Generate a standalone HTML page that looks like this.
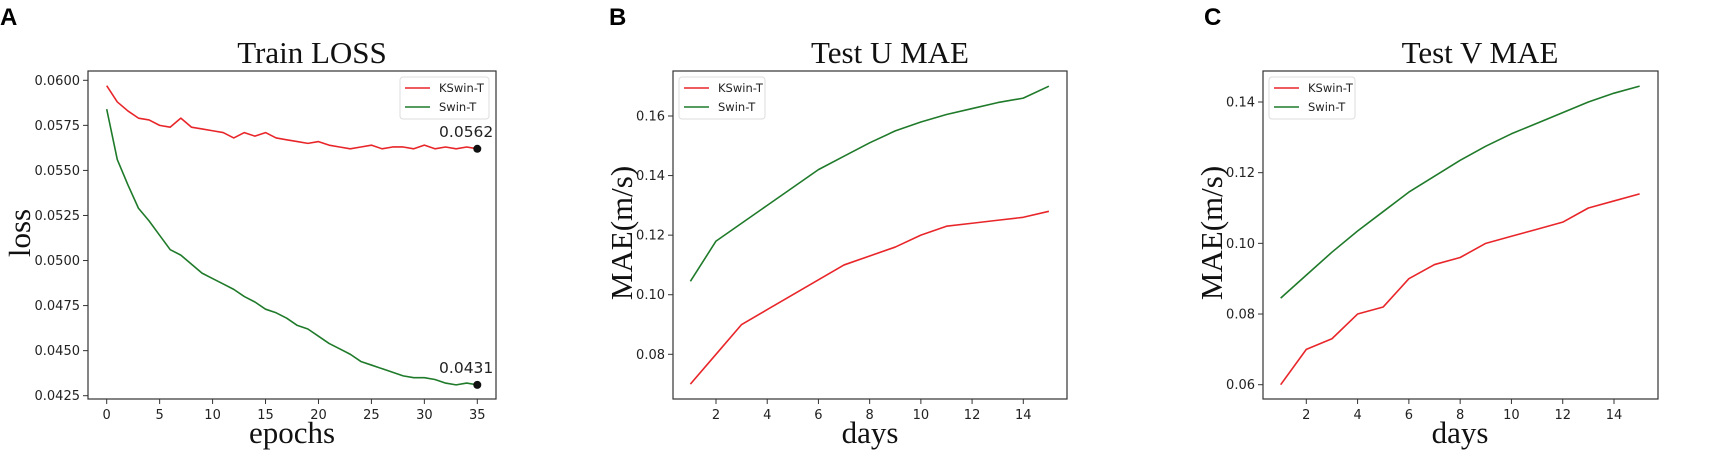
<!DOCTYPE html>
<html><head><meta charset="utf-8"><style>
body{margin:0;background:#fff;}
svg{display:block;}
.tk{font-family:"DejaVu Sans","Liberation Sans",sans-serif;font-size:13px;fill:#222;}
.ttl{font-family:"Liberation Serif",serif;font-size:31px;fill:#111;}
.lg{font-family:"DejaVu Sans","Liberation Sans",sans-serif;font-size:11.5px;fill:#222;}
.let{font-family:"Liberation Sans",sans-serif;font-weight:bold;font-size:24px;fill:#000;}
</style></head><body>
<svg id="fig" width="1719" height="461" xmlns="http://www.w3.org/2000/svg"></svg>
<script>
const epochs=[...Array(36).keys()];
const lossKSwin=[0.0597,0.0588,0.0583,0.0579,0.0578,0.0575,0.0574,0.0579,0.0574,0.0573,0.0572,0.0571,0.0568,0.0571,0.0569,0.0571,0.0568,0.0567,0.0566,0.0565,0.0566,0.0564,0.0563,0.0562,0.0563,0.0564,0.0562,0.0563,0.0563,0.0562,0.0564,0.0562,0.0563,0.0562,0.0563,0.0562];
const lossSwin=[0.0584,0.0556,0.0542,0.0529,0.0522,0.0514,0.0506,0.0503,0.0498,0.0493,0.0490,0.0487,0.0484,0.0480,0.0477,0.0473,0.0471,0.0468,0.0464,0.0462,0.0458,0.0454,0.0451,0.0448,0.0444,0.0442,0.0440,0.0438,0.0436,0.0435,0.0435,0.0434,0.0432,0.0431,0.0432,0.0431];
const days=[1,2,3,4,5,6,7,8,9,10,11,12,13,14,15];
const uKSwin=[0.070,0.080,0.090,0.095,0.100,0.105,0.110,0.113,0.116,0.120,0.123,0.124,0.125,0.126,0.128];
const uSwin=[0.1045,0.118,0.124,0.130,0.136,0.142,0.1465,0.151,0.155,0.158,0.1605,0.1625,0.1645,0.166,0.170];
const vKSwin=[0.060,0.070,0.073,0.080,0.082,0.090,0.094,0.096,0.100,0.102,0.104,0.106,0.110,0.112,0.114];
const vSwin=[0.0845,0.091,0.0975,0.1035,0.109,0.1145,0.119,0.1235,0.1275,0.131,0.134,0.137,0.140,0.1425,0.1445];
const lossXTicks=[0,5,10,15,20,25,30,35];
const lossYTicks=[0.0425,0.0450,0.0475,0.0500,0.0525,0.0550,0.0575,0.0600];
const dayXTicks=[2,4,6,8,10,12,14];
const uYTicks=[0.08,0.10,0.12,0.14,0.16];
const vYTicks=[0.06,0.08,0.10,0.12,0.14];

const NS="http://www.w3.org/2000/svg";
const svg=document.getElementById('fig');
function mk(tag,attrs,parent,text){const e=document.createElementNS(NS,tag);for(const k in attrs)e.setAttribute(k,attrs[k]);if(text!==undefined)e.textContent=text;(parent||svg).appendChild(e);return e;}

function panel(p){
  const g=mk('g',{});
  
  
  const X=v=>p.x0px+(v-p.x0v)*(p.x1px-p.x0px)/(p.x1v-p.x0v);
  const Y=v=>p.y0px+(v-p.y0v)*(p.y1px-p.y0px)/(p.y1v-p.y0v);
  let t=mk('text',{x:p.letX,y:25,class:'let'},g,p.letter);
  
  t=mk('text',{x:p.titleX,y:63,class:'ttl','text-anchor':'middle'},g,p.title);
  
  // series
  p.series.forEach(s=>{
    const d=p.xs.map((xv,i)=>(i?'L':'M')+X(xv).toFixed(2)+','+Y(s.vals[i]).toFixed(2)).join('');
    const l=mk('path',{d:d,fill:'none',stroke:s.color,'stroke-width':1.6,'stroke-linejoin':'round'},g);
    
  });
  // frame
  const r=mk('rect',{x:p.bx0,y:71,width:p.bx1-p.bx0,height:328,fill:'none',stroke:'#333','stroke-width':1.2},g);
  
  p.xticks.forEach(v=>{
    mk('line',{x1:X(v),x2:X(v),y1:399,y2:404,stroke:'#333'},g);
    const tt=mk('text',{x:X(v),y:419,class:'tk','text-anchor':'middle'},g,String(v));
    
  });
  p.yticks.forEach(v=>{
    mk('line',{x1:p.bx0-5,x2:p.bx0,y1:Y(v),y2:Y(v),stroke:'#333'},g);
    const tt=mk('text',{x:p.bx0-8,y:Y(v)+4.5,class:'tk','text-anchor':'end'},g,v.toFixed(p.dec));
    
  });
  t=mk('text',{x:p.xlabX,y:443,class:'ttl','text-anchor':'middle'},g,p.xlab);
  
  t=mk('text',{x:0,y:0,class:'ttl','text-anchor':'middle',transform:'translate('+p.ylabX+',233) rotate(-90)'},g,p.ylab);
  
  // legend
  const lg=mk('g',{},g);
  
  mk('rect',{x:p.lgX,y:77,width:p.lgW,height:42,rx:3,fill:'#fff',stroke:'#ddd'},lg);
  p.series.forEach((s,i)=>{
    const yy=88+i*19;
    mk('line',{x1:p.lgX+5,x2:p.lgX+30,y1:yy,y2:yy,stroke:s.color,'stroke-width':1.6},lg);
    const e=mk('text',{x:p.lgX+39,y:yy+4,class:'lg'},lg,s.name);
    
  });
  if(p.annot){
    p.series.forEach(s=>{
      const n=s.vals.length-1,cx=X(p.xs[n]),cy=Y(s.vals[n]);
      const c=mk('circle',{cx:cx,cy:cy,r:4,fill:'#111'},g);
      
      const a=mk('text',{x:cx+16,y:cy-12,class:'tk','font-size':'15.5','text-anchor':'end',style:'font-size:15.5px'},g,s.vals[n].toFixed(4));
      
    });
  }
}

panel({id:'train-loss',letter:'A',letX:0,title:'Train LOSS',titleX:312,xlab:'epochs',xlabX:292,ylab:'loss',ylabX:30,
  bx0:88,bx1:496,x0v:0,x0px:106.7,x1v:35,x1px:477.3,y0v:0.0600,y0px:80.3,y1v:0.0425,y1px:395.7,
  xs:epochs,xticks:lossXTicks,yticks:lossYTicks,dec:4,lgX:400,lgW:89,annot:true,
  series:[{key:'kswin-t',name:'KSwin-T',color:'#e8262a',vals:lossKSwin},{key:'swin-t',name:'Swin-T',color:'#1f7a2a',vals:lossSwin}]});
panel({id:'test-u-mae',letter:'B',letX:609,title:'Test U MAE',titleX:890,xlab:'days',xlabX:870,ylab:'MAE(m/s)',ylabX:632,
  bx0:673,bx1:1067,x0v:2,x0px:716,x1v:14,x1px:1023.3,y0v:0.16,y0px:116,y1v:0.08,y1px:354.3,
  xs:days,xticks:dayXTicks,yticks:uYTicks,dec:2,lgX:679,lgW:86,annot:false,
  series:[{key:'kswin-t',name:'KSwin-T',color:'#e8262a',vals:uKSwin},{key:'swin-t',name:'Swin-T',color:'#1f7a2a',vals:uSwin}]});
panel({id:'test-v-mae',letter:'C',letX:1204,title:'Test V MAE',titleX:1480,xlab:'days',xlabX:1460,ylab:'MAE(m/s)',ylabX:1222,
  bx0:1263,bx1:1658,x0v:2,x0px:1306.3,x1v:14,x1px:1614,y0v:0.14,y0px:102,y1v:0.06,y1px:384.7,
  xs:days,xticks:dayXTicks,yticks:vYTicks,dec:2,lgX:1269,lgW:86,annot:false,
  series:[{key:'kswin-t',name:'KSwin-T',color:'#e8262a',vals:vKSwin},{key:'swin-t',name:'Swin-T',color:'#1f7a2a',vals:vSwin}]});
</script>
</body></html>
